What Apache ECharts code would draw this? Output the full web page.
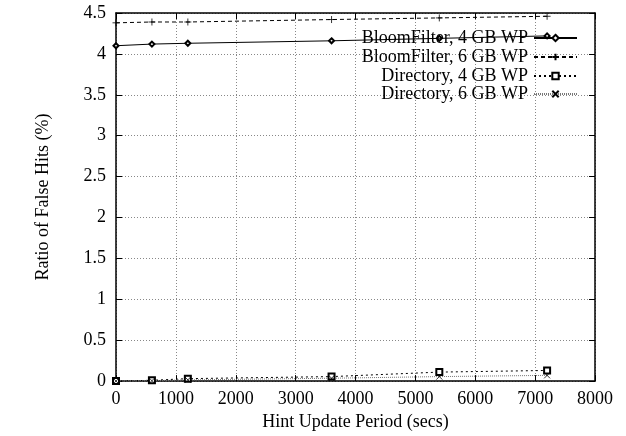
<!DOCTYPE html>
<html>
<head>
<meta charset="utf-8">
<script src="https://cdn.jsdelivr.net/npm/echarts@6/dist/echarts.min.js"></script>
<style>html,body{margin:0;padding:0;background:#fff}#c{width:626px;height:436px}</style>
</head>
<body>
<div id="c"></div>
<script>
const periods = [0, 600, 1200, 3600, 5400, 7200];
const bloom4 = [4.10, 4.12, 4.13, 4.16, 4.19, 4.22];
const bloom6 = [4.38, 4.39, 4.39, 4.42, 4.44, 4.46];
const dir4 = [0, 0.01, 0.03, 0.055, 0.11, 0.13];
const dir6 = [0, 0.005, 0.015, 0.035, 0.055, 0.07];
const seriesNames = ['BloomFilter, 4 GB WP', 'BloomFilter, 6 GB WP', 'Directory, 4 GB WP', 'Directory, 6 GB WP'];

const FONT = 'Liberation Serif';
const FS = 18;
const plus = 'path://M0,5L10,5M5,0L5,10';
const cross = 'path://M0,0L10,10M10,0L0,10';

function pairs(ys) { return periods.map((x, i) => [x, ys[i]]); }

const styles = [
  { symbol: 'emptyDiamond', size: 5, line: 'solid', lc: '#000', fill: '#000' },
  { symbol: plus, size: 7, line: [4, 3], lc: '#000', fill: 'transparent' },
  { symbol: 'emptyRect', size: 6, line: [2, 3], lc: '#000', fill: '#000' },
  { symbol: cross, size: 6, line: [1, 1], lc: '#777', fill: 'transparent' }
];

const allData = [bloom4, bloom6, dir4, dir6];
const series = allData.map((d, i) => ({
  name: seriesNames[i],
  type: 'line',
  data: pairs(d),
  symbol: styles[i].symbol,
  symbolSize: styles[i].size,
  showAllSymbol: true,
  lineStyle: { color: styles[i].lc, width: 1, type: styles[i].line },
  itemStyle: { color: styles[i].fill, borderColor: '#000', borderWidth: 0.8 },
  emphasis: { disabled: true },
  animation: false,
  z: 3
}));

const legendCenters = [39, 58, 77, 95];
const legends = seriesNames.map((n, i) => ({
  data: [n],
  right: 48,
  top: legendCenters[i] - 10,
  align: 'right',
  itemWidth: 43,
  itemHeight: 8,
  itemGap: 0,
  padding: 0,
  selectedMode: false,
  textStyle: { fontFamily: FONT, fontSize: FS, color: '#000', padding: [0, 1, 0, 0] }
}));

const gridLine = { show: true, lineStyle: { color: '#888', type: [1, 2], width: 1 } };
const axisLine = { show: true, onZero: false, lineStyle: { color: '#000', width: 1.5 } };
const tick = { show: true, inside: true, length: 6, lineStyle: { color: '#000' } };
const plain = v => String(v);

const chart = echarts.init(document.getElementById('c'), null, { renderer: 'canvas' });
chart.setOption({
  animation: false,
  backgroundColor: '#fff',
  grid: { left: 116, right: 31, top: 13, bottom: 52, containLabel: false },
  legend: legends,
  xAxis: [
    {
      type: 'value', min: 0, max: 8000, interval: 1000, position: 'bottom',
      name: 'Hint Update Period (secs)', nameLocation: 'middle', nameGap: 23,
      nameTextStyle: { fontFamily: FONT, fontSize: FS, color: '#000' },
      axisLabel: { fontFamily: FONT, fontSize: FS, color: '#000', margin: 9, formatter: plain },
      axisLine, axisTick: tick, splitLine: gridLine
    },
    {
      type: 'value', min: 0, max: 8000, interval: 1000, position: 'top',
      axisLabel: { show: false }, axisLine, axisTick: tick, splitLine: { show: false }
    }
  ],
  yAxis: [
    {
      type: 'value', min: 0, max: 4.5, interval: 0.5, position: 'left',
      name: 'Ratio of False Hits (%)', nameLocation: 'middle', nameGap: 64,
      nameTextStyle: { fontFamily: FONT, fontSize: FS, color: '#000' },
      axisLabel: { fontFamily: FONT, fontSize: FS, color: '#000', margin: 10, formatter: plain },
      axisLine, axisTick: tick, splitLine: gridLine
    },
    {
      type: 'value', min: 0, max: 4.5, interval: 0.5, position: 'right',
      axisLabel: { show: false }, axisLine, axisTick: tick, splitLine: { show: false }
    }
  ],
  series: series
});
</script>
</body>
</html>
